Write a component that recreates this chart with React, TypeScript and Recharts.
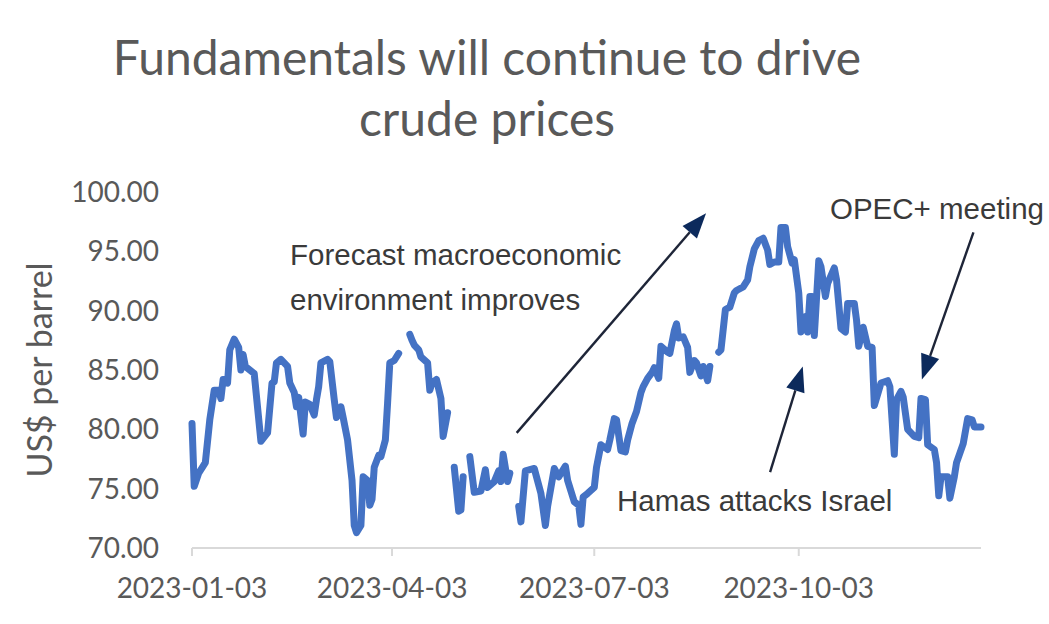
import React from "react";
import { LineChart, Line, XAxis, YAxis, ReferenceLine } from "recharts";

// days since 2023-01-03, null = break in the series
const days = [
  0, 1, 3, 6, 8, 10, 12, 13, 14, 16, 17, 19, 21, 22, 23, 24, 26, 28, 31, 34,
  36, 37, 38, 40, 43, 44, 46, 47, 48, 50, 51, 53, 55, 56, 57, 58, 61, 62, 64, 65,
  67, 68, 70, 72, 73, 74, 76, 77, 79, 80, 81, 82, 84, 85, 87, 88, 89, 91, 93, 96,
  98, 99, 100, 102, 103, 106, 107, 108, 110, 112, 113, 115, 117, 118, 120, 121, 122, 124, 125, 127,
  130, 132, 133, 136, 138, 139, 140, 142, 143, 145, 147, 148, 150, 154, 157, 159, 160, 163, 165, 168,
  169, 172, 174, 175, 176, 178, 181, 182, 184, 187, 188, 190, 191, 193, 195, 196, 198, 200, 202, 203,
  205, 207, 208, 210, 211, 214, 215, 217, 218, 219, 221, 223, 224, 226, 227, 229, 230, 232, 233, 235,
  237, 238, 240, 242, 244, 245, 248, 250, 251, 253, 255, 257, 259, 260, 262, 264, 265, 267, 268, 270,
  271, 273, 274, 276, 277, 278, 279, 280, 282, 283, 285, 286, 289, 290, 292, 294, 295, 298, 299, 300,
  302, 304, 306, 307, 310, 313, 314, 316, 317, 319, 320, 322, 325, 327, 328, 330, 331, 334, 335, 336,
  337, 340, 341, 343, 344, 347, 349, 351, 352, 355,
];

const prices = [
  80.5, 75.2, 76.3, 77.2, 80.8, 83.3, 83.3, 82.6, 84.2, 83.9, 86.7, 87.6, 86.9, 85.0, 86.3, 85.3, 85.0, 84.7, 79.0, 79.7,
  83.9, 84.0, 85.6, 85.9, 85.3, 83.9, 83.1, 81.9, 82.7, 79.6, 82.3, 82.1, 81.2, 82.5, 83.6, 85.6, 85.9, 85.7, 82.5, 81.0,
  81.9, 81.0, 79.1, 75.7, 71.9, 71.3, 71.9, 76.0, 75.7, 73.6, 74.1, 76.8, 77.8, 77.7, 79.1, 82.2, 85.6, 85.8, 86.4, null,
  88.0, 87.5, 87.1, 86.7, 86.1, 85.6, 83.3, 83.9, 84.2, 82.6, 79.4, 81.4, null, 76.8, 73.1, 73.2, 76.0, null, 77.7, 74.7,
  74.8, 76.6, 75.1, 75.6, 76.5, 75.6, 77.9, 75.6, 76.3, null, 73.5, 72.2, 76.5, 76.7, 74.6, 71.9, 73.5, 76.7, 76.0, 76.9,
  75.7, 73.9, 73.6, 72.0, 74.3, 74.6, 75.1, 76.8, 78.7, 78.3, 79.1, 80.9, 80.8, 78.2, 78.1, 79.1, 80.5, 81.5, 83.1, 83.6,
  84.3, 84.8, 85.2, 84.3, 87.0, 86.5, 86.4, 88.3, 88.9, 87.7, 87.8, 86.9, 84.8, 85.8, 85.6, 84.5, 85.3, 84.1, 85.3, null,
  86.5, 86.7, 90.1, 90.3, 91.5, 91.7, 92.0, 92.6, 93.7, 95.2, 95.9, 96.1, 95.1, 93.9, 94.1, 94.1, 97.0, 97.0, 95.4, 94.0,
  94.3, 91.5, 88.2, 89.5, 88.2, 91.2, 91.2, 87.9, 94.2, 93.7, 91.2, 92.3, 93.6, 92.6, 88.5, 88.2, 90.6, 90.6, 89.2, 87.0,
  88.6, 87.0, 86.9, 82.0, 83.9, 84.1, 83.6, 77.9, 82.5, 83.2, 82.7, 80.0, 79.4, 79.3, 82.6, 82.5, 78.7, 78.3, 77.2, 74.4,
  76.0, 76.0, 74.2, 76.0, 77.2, 78.8, 80.9, 80.8, 80.2, 80.2,
];

const tickDays = [0, 90, 181, 273];
const tickLabels = ["2023-01-03", "2023-04-03", "2023-07-03", "2023-10-03"];
const priceTicks = [70, 75, 80, 85, 90, 95, 100];

// annotation arrows in data units: [tailDay, tailPrice, tipDay, tipPrice]
const arrows = [
  [146.1, 79.7, 231.3, 98.2],
  [260.1, 76.4, 274.8, 85.3],
  [351.6, 96.6, 328.4, 84.2],
];

const data = days.map((day, i) => ({ day, price: prices[i] }));

const grey = "#595959";
const tickFont = "Lato, 'Open Sans', sans-serif";
const noteFont = "'Liberation Sans', Arial, sans-serif";

function Arrow(props: any) {
  const { x1, y1, x2, y2 } = props;
  const dx = x2 - x1;
  const dy = y2 - y1;
  const len = Math.hypot(dx, dy) || 1;
  const ux = dx / len;
  const uy = dy / len;
  const head = 25;
  const half = 9.5;
  const bx = x2 - ux * head;
  const by = y2 - uy * head;
  const px = -uy;
  const py = ux;
  return (
    <g>
      <line x1={x1} y1={y1} x2={bx} y2={by} stroke="#1e2538" strokeWidth={2.4} />
      <polygon
        points={`${x2},${y2} ${bx + px * half},${by + py * half} ${bx - px * half},${by - py * half}`}
        fill="#0c2a5c"
      />
    </g>
  );
}

const note: React.CSSProperties = {
  position: "absolute",
  fontFamily: noteFont,
  fontSize: 29.5,
  color: "#3a3a3a",
  whiteSpace: "nowrap",
  lineHeight: "45px",
};

export default function App() {
  return (
    <div style={{ position: "absolute", left: 0, top: 0, width: 1049, height: 624, background: "#fff", overflow: "hidden" }}>
      <div
        style={{
          position: "absolute",
          left: 0,
          top: 26,
          width: 974,
          textAlign: "center",
          fontFamily: tickFont,
          fontWeight: 400,
          fontSize: 48,
          lineHeight: "61px",
          color: grey,
        }}
      >
        Fundamentals will continue to drive
        <br />
        crude prices
      </div>

      <LineChart width={1049} height={624} data={data} margin={{ top: 192, right: 68, bottom: 0, left: 0 }}>
        <XAxis
          dataKey="day"
          type="number"
          domain={[0, 355]}
          ticks={tickDays}
          tickFormatter={(d) => tickLabels[tickDays.indexOf(d)] ?? ""}
          height={76}
          axisLine={{ stroke: "#d9d9d9", strokeWidth: 2 }}
          tickLine={{ stroke: "#d9d9d9", strokeWidth: 2 }}
          tickSize={8}
          tickMargin={22}
          tick={{ fill: grey, fontSize: 28, fontFamily: tickFont }}
          interval={0}
        />
        <YAxis
          domain={[70, 100]}
          ticks={priceTicks}
          tickFormatter={(v) => Number(v).toFixed(2)}
          width={192}
          axisLine={false}
          tickLine={false}
          tickSize={0}
          tickMargin={33}
          tick={{ fill: grey, fontSize: 28, fontFamily: tickFont }}
          interval={0}
        />
        {arrows.map((a, i) => (
          <ReferenceLine
            key={i}
            segment={[
              { x: a[0], y: a[1] },
              { x: a[2], y: a[3] },
            ]}
            ifOverflow="visible"
            shape={Arrow}
          />
        ))}
        <Line
          dataKey="price"
          stroke="#4472c4"
          strokeWidth={7}
          strokeLinejoin="round"
          strokeLinecap="round"
          dot={false}
          connectNulls={false}
          isAnimationActive={false}
        />
      </LineChart>

      <div
        style={{
          position: "absolute",
          left: 38,
          top: 370,
          transform: "translate(-50%, -50%) rotate(-90deg)",
          fontFamily: tickFont,
          fontSize: 34,
          color: grey,
          whiteSpace: "nowrap",
        }}
      >
        US$ per barrel
      </div>

      <div style={{ ...note, left: 290, top: 232 }}>
        Forecast macroeconomic
        <br />
        environment improves
      </div>
      <div style={{ ...note, left: 830, top: 186 }}>OPEC+ meeting</div>
      <div style={{ ...note, left: 617, top: 478 }}>Hamas attacks Israel</div>
    </div>
  );
}
